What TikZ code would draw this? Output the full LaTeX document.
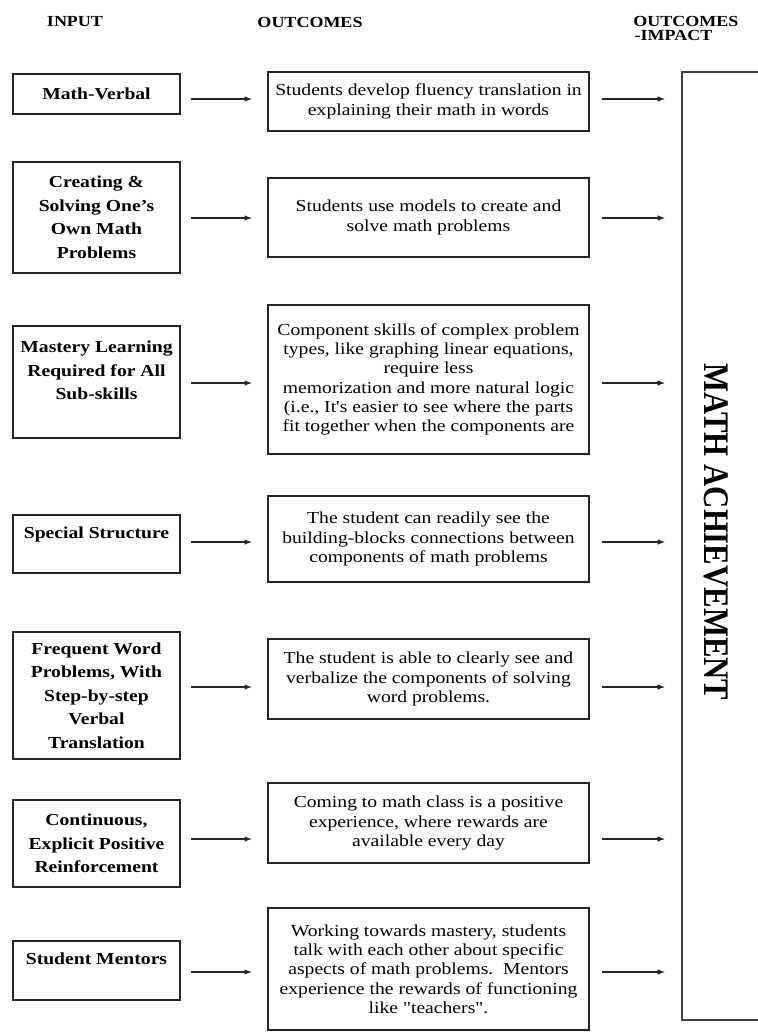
\documentclass[tikz,border=0pt]{standalone}
\usepackage{fontspec}
\setmainfont{Liberation Serif}[FakeStretch=1.17, Ligatures=TeXOff]
\newfontfamily\titlefont{Liberation Serif}
\usepackage{tikz}
\usetikzlibrary{arrows.meta}

\begin{document}
\begin{tikzpicture}[x=0.715pt, y=-0.715pt,
        inbox/.style={draw=black!85, line width=1.2pt, minimum width=119.4pt, align=center,
            inner sep=2pt, font=\bfseries\fontsize{12pt}{16.8pt}\selectfont},
        outbox/.style={draw=black!85, line width=1.2pt, minimum width=229.5pt, align=center,
            inner sep=2pt, font=\fontsize{12pt}{13.8pt}\selectfont},
        head/.style={font=\bfseries\fontsize{11pt}{10pt}\selectfont, inner sep=0pt, align=left},
        arr/.style={-{Latex[length=5.5pt, width=4pt]}, line width=0.9pt, black!85}]

        \useasboundingbox (0,0) rectangle (757,1033);

        \node[head] (hin) at (75,22) {INPUT};
        \node[head] (hout) at (310,22) {OUTCOMES};
        \node[head, anchor=west] (himp) at (633,28) {OUTCOMES\\\hspace{1pt}-IMPACT};

        % input column
        \node[inbox, minimum height=28.6pt] (in1) at (96.5,94) {Math-Verbal};
        \node[inbox, minimum height=79.4pt] (in2) at (96.5,217.5) {Creating \&\\Solving One’s\\Own Math\\Problems};
        \node[inbox, minimum height=80.1pt] (in3) at (96.5,382) {Mastery Learning\\Required for All\\Sub-skills\\~};
        \node[inbox, minimum height=41.5pt] (in4) at (96.5,544) {Special Structure\\~};
        \node[inbox, minimum height=90.8pt] (in5) at (96.5,695.5) {Frequent Word\\Problems, With\\Step-by-step\\Verbal\\Translation};
        \node[inbox, minimum height=62.2pt] (in6) at (96.5,843.5) {Continuous,\\Explicit Positive\\Reinforcement};
        \node[inbox, minimum height=42.2pt] (in7) at (96.5,970.5) {Student Mentors\\~};

        % outcomes column
        \node[outbox, minimum height=42.2pt] (out1) at (428.5,101.5)
            {Students develop fluency translation in\\explaining their math in words};
        \node[outbox, minimum height=56.5pt] (out2) at (428.5,217.5)
            {Students use models to create and\\solve math problems};
        \node[outbox, minimum height=106.5pt] (out3) at (428.5,379.5)
            {Component skills of complex problem\\types, like graphing linear equations,\\require less\\memorization and more natural logic\\(i.e., It's easier to see where the parts\\fit together when the components are};
        \node[outbox, minimum height=61.5pt] (out4) at (428.5,539)
            {The student can readily see the\\building-blocks connections between\\components of math problems};
        \node[outbox, minimum height=57.2pt] (out5) at (428.5,679)
            {The student is able to clearly see and\\verbalize the components of solving\\word problems.};
        \node[outbox, minimum height=57.2pt] (out6) at (428.5,823)
            {Coming to math class is a positive\\experience, where rewards are\\available every day};
        \node[outbox, minimum height=87.2pt] (out7) at (428.5,969)
            {Working towards mastery, students\\talk with each other about specific\\aspects of math problems.\ \ Mentors\\experience the rewards of functioning\\like "teachers".};

        % impact column
        \node[draw=black!75, line width=1pt, minimum width=84.4pt, minimum height=677.8pt] (impact) at (741,546) {};
        \node[rotate=-90] (impact-text) at (716,532)
            {\titlefont\bfseries\fontsize{22pt}{22pt}\selectfont\scalebox{1}[1.17]{MATH ACHIEVEMENT}};

        \foreach \i/\y in {1/99, 2/218, 3/383, 4/542, 5/687, 6/839, 7/972} {
            \coordinate (r\i) at (0,\y);
            \draw[arr, shorten <=7.2pt, shorten >=10.7pt] (in\i.east |- r\i) -- (out\i.west |- r\i);
            \draw[arr, shorten <=8.6pt, shorten >=11.4pt] (out\i.east |- r\i) -- (impact.west |- r\i);
        }
    \end{tikzpicture}
\end{document}
